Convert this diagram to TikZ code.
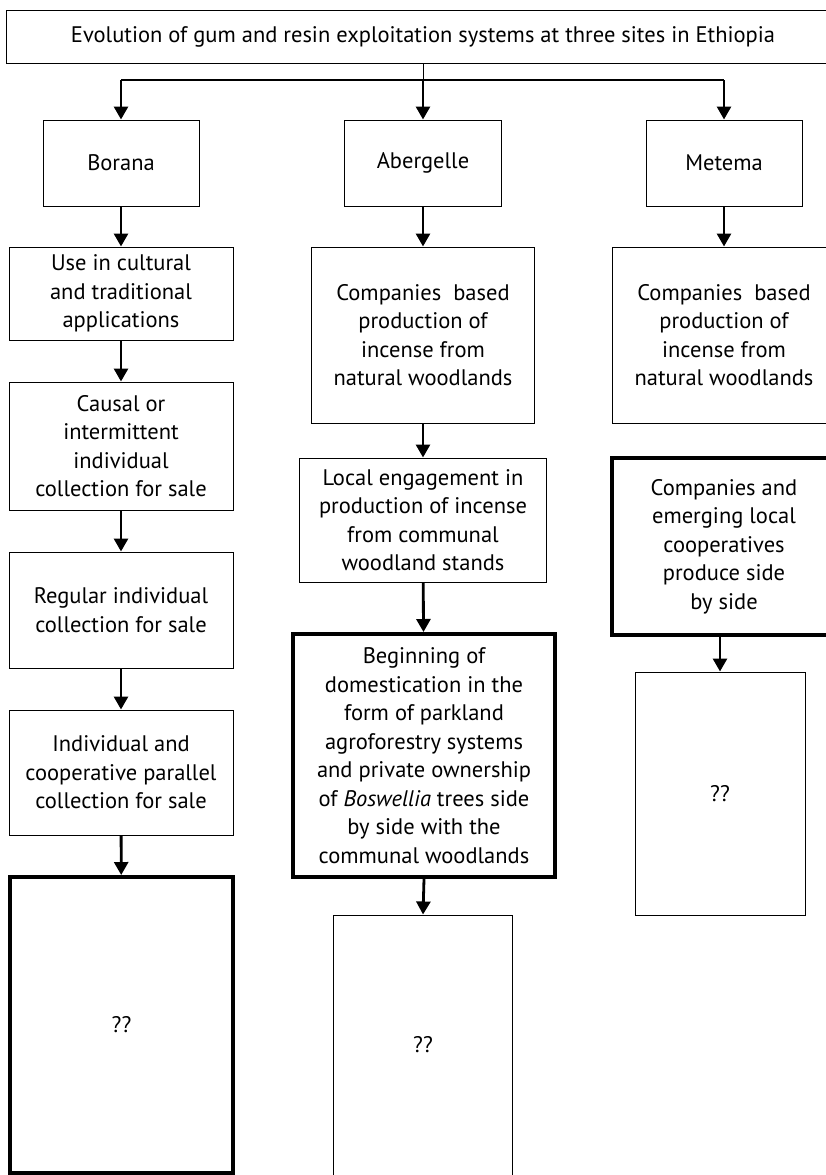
\documentclass[tikz,border=0pt]{standalone}
\usepackage{fontspec}
\setmainfont{PT Sans}
\usetikzlibrary{arrows.meta}
\begin{document}
\begin{tikzpicture}[x=1pt,y=-1pt,
  box/.style={draw, line width=1pt, align=center, inner sep=0pt, font=\fontsize{22.5}{28.5}\selectfont},
  thickbox/.style={box, line width=4pt},
  arr/.style={line width=2.8pt, -{Triangle[width=14pt,length=13pt]}},
  link/.style={line width=1pt},
  bar/.style={line width=2pt}]
\useasboundingbox (0,0) rectangle (826,1175);
\clip (0,0) rectangle (826,1175);
% title
\node[box, minimum width=834pt, minimum height=53pt] (title) at (423,36.5)
  {Evolution of gum and resin exploitation systems at three sites in Ethiopia};
% sites
\node[box, minimum width=156pt, minimum height=86pt] (borana) at (121,163) {Borana};
\node[box, minimum width=157pt, minimum height=86pt] (aber) at (423,163) {Abergelle};
\node[box, minimum width=156pt, minimum height=86pt] (metema) at (724,163) {Metema};
% Borana column
\node[box, minimum width=224pt, minimum height=93pt] (b1) at (121,293.5)
  {Use in cultural\\and traditional\\applications};
\node[box, minimum width=224pt, minimum height=128pt] (b2) at (121,446)
  {Causal or\\intermittent\\individual\\collection for sale};
\node[box, minimum width=224pt, minimum height=116pt] (b3) at (121,610)
  {Regular individual\\collection for sale};
\node[box, minimum width=224pt, minimum height=125pt] (b4) at (121,772.5)
  {Individual and\\cooperative parallel\\collection for sale};
\node[thickbox, minimum width=223pt, minimum height=296pt] (b5) at (121.5,1025) {??};
% Abergelle column
\node[box, minimum width=223pt, minimum height=176pt] (a1) at (423,335)
  {Companies\ \ based\\production of\\incense from\\natural woodlands};
\node[box, minimum width=247pt, minimum height=124pt] (a2) at (423,520)
  {Local engagement in\\production of incense\\from communal\\woodland stands};
\node[thickbox, minimum width=262pt, minimum height=243pt] (a3) at (424,755.5)
  {Beginning of\\domestication in the\\form of parkland\\agroforestry systems\\and private ownership\\of \textit{Boswellia} trees side\\by side with the\\communal woodlands};
\node[box, minimum width=179pt, minimum height=260pt] (a4) at (423,1045) {??};
% Metema column
\node[box, minimum width=224pt, minimum height=176pt] (m1) at (724,335)
  {Companies\ \ based\\production of\\incense from\\natural woodlands};
\node[thickbox, minimum width=224pt, minimum height=177pt] (m2) at (724,546.5)
  {Companies and\\emerging local\\cooperatives\\produce side\\by side};
\node[box, minimum width=170pt, minimum height=243pt] (m3) at (720,793.5) {??};
% connectors
\coordinate (jt) at (423,80);
\coordinate (jb) at (121,80);
\coordinate (jm) at (724,80);
\draw[link] (title.south) -- (jt);
\draw[bar] (jb) -- (jm);
\draw[arr] (jb) -- (borana.north);
\draw[arr] (jt) -- (aber.north);
\draw[arr] (jm) -- (metema.north);
\draw[arr] (borana) -- (b1);
\draw[arr] (b1) -- (b2);
\draw[arr] (b2) -- (b3);
\draw[arr] (b3) -- (b4);
\draw[arr] (b4) -- (b5);
\draw[arr] (aber) -- (a1);
\draw[arr] (a1) -- (a2);
\draw[arr] (a2) -- (a3);
\draw[arr] (a3.south) -- (a4.north);
\draw[arr] (metema) -- (m1);
\draw[arr] (m2.south -| m3.north) -- (m3.north);
\end{tikzpicture}
\end{document}
